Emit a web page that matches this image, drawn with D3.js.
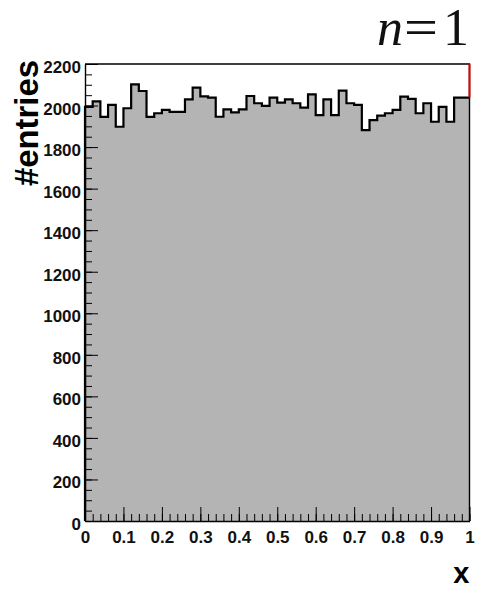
<!DOCTYPE html>
<html>
<head>
<meta charset="utf-8">
<script src="https://cdn.jsdelivr.net/npm/d3@7/dist/d3.min.js"></script>
<style>
  html, body { margin: 0; padding: 0; background: #fff; }
  svg { display: block; }
</style>
</head>
<body>
<div id="chart"></div>
<script>
// ---- data ----
const binEdges = [0, 1];           // x range of the histogram
const nBins = 50;
const counts = [
  1994, 2020, 1945, 2003, 1898, 1987, 2102, 2070, 1945, 1963,
  1979, 1970, 1970, 2030, 2086, 2044, 2038, 1946, 1982, 1967,
  1982, 2046, 2011, 1998, 2038, 2014, 2030, 2011, 1990, 2054,
  1954, 2030, 1954, 2072, 2011, 2003, 1882, 1930, 1951, 1963,
  1979, 2043, 2032, 1963, 2011, 1922, 1994, 1922, 2038, 2038
];
const yMajorTicks = [0, 200, 400, 600, 800, 1000, 1200, 1400, 1600, 1800, 2000, 2200];
const yTickLabels = ["0", "200", "400", "600", "800", "1000", "1200", "1400", "1600", "1800", "2000", "2200"];
const xMajorTicks = [0, 0.1, 0.2, 0.3, 0.4, 0.5, 0.6, 0.7, 0.8, 0.9, 1];
const xTickLabels = ["0", "0.1", "0.2", "0.3", "0.4", "0.5", "0.6", "0.7", "0.8", "0.9", "1"];
const yMax = 2200;
const xTitle = "x";
const yTitle = "#entries";
const titleParts = ["n", "=", "1"];

// ---- layout ----
const W = 479, H = 591;
const L = 85, R = 469.5, T = 64, B = 521;

const svg = d3.select("#chart").append("svg")
  .attr("width", W).attr("height", H)
  .attr("viewBox", `0 0 ${W} ${H}`);
svg.append("rect").attr("width", W).attr("height", H).attr("fill", "#fff");

const x = d3.scaleLinear().domain(binEdges).range([L, R]);
const y = d3.scaleLinear().domain([0, yMax]).range([B, T]);

const binW = (binEdges[1] - binEdges[0]) / nBins;
const pts = counts.map((c, i) => [binEdges[0] + i * binW, c]);
pts.push([binEdges[1], counts[counts.length - 1]]);

// fill
const area = d3.area()
  .x(d => x(d[0])).y0(y(0)).y1(d => y(d[1]))
  .curve(d3.curveStepAfter);
svg.append("path").datum(pts).attr("d", area).attr("fill", "#b4b4b4");

// outline
const line = d3.line().x(d => x(d[0])).y(d => y(d[1])).curve(d3.curveStepAfter);
svg.append("path")
  .attr("d", line(pts).replace(/^M/, `M${x(binEdges[0])},${y(0)}L`))
  .attr("fill", "none").attr("stroke", "#000").attr("stroke-width", 2.2)
  .attr("stroke-linejoin", "miter");

// frame (top & right)
svg.append("path")
  .attr("d", `M${L},${y(yMax)}L${R},${y(yMax)}L${R},${B}`)
  .attr("fill", "none").attr("stroke", "#000").attr("stroke-width", 1.4);

// red segment on right edge above last bin
svg.append("line")
  .attr("x1", R).attr("x2", R)
  .attr("y1", y(yMax)).attr("y2", y(counts[counts.length - 1]))
  .attr("stroke", "#e00000").attr("stroke-width", 2);

const font = "'Liberation Sans', Arial, Helvetica, sans-serif";

// y axis
const yMinor = d3.range(0, yMax + 1, 50);
const yAxisMinor = svg.append("g").attr("transform", `translate(${L},0)`)
  .call(d3.axisLeft(y).tickValues(yMinor).tickSize(-7).tickSizeOuter(0).tickFormat(""));
yAxisMinor.select(".domain").remove();
const yAxis = svg.append("g").attr("transform", `translate(${L},0)`)
  .call(d3.axisLeft(y).tickValues(yMajorTicks).tickSize(-13).tickSizeOuter(0).tickPadding(4)
        .tickFormat((d, i) => yTickLabels[i]));
yAxis.select(".domain").attr("stroke-width", 1.4);
yAxis.selectAll("text")
  .attr("font-family", font).attr("font-weight", "bold").attr("font-size", 17)
  .attr("fill", "#111").attr("dy", "0.5em");

// x axis
const xMinor = d3.range(0, 51).map(i => i / 50);
const xAxisMinor = svg.append("g").attr("transform", `translate(0,${B})`)
  .call(d3.axisBottom(x).tickValues(xMinor).tickSize(-7).tickSizeOuter(0).tickFormat(""));
xAxisMinor.select(".domain").remove();
const xAxis = svg.append("g").attr("transform", `translate(0,${B})`)
  .call(d3.axisBottom(x).tickValues(xMajorTicks).tickSize(-14).tickSizeOuter(0).tickPadding(10)
        .tickFormat((d, i) => xTickLabels[i]));
xAxis.select(".domain").attr("stroke-width", 1.4);
xAxis.selectAll("text")
  .attr("font-family", font).attr("font-weight", "bold").attr("font-size", 17)
  .attr("fill", "#111");
svg.selectAll(".tick line").attr("stroke", "#000").attr("stroke-width", 1);

// axis titles
svg.append("text")
  .attr("x", R).attr("y", 583)
  .attr("text-anchor", "end")
  .attr("font-family", font).attr("font-weight", "bold").attr("font-size", 29)
  .attr("fill", "#000").text(xTitle);

svg.append("text")
  .attr("transform", `translate(38,60) rotate(-90)`)
  .attr("text-anchor", "end")
  .attr("font-family", font).attr("font-weight", "bold").attr("font-size", 34)
  .attr("textLength", 126).attr("lengthAdjust", "spacingAndGlyphs")
  .attr("fill", "#000").text(yTitle);

// title n=1
const serif = "'Liberation Serif', 'Times New Roman', serif";
const title = svg.append("text").attr("y", 45)
  .attr("font-family", serif).attr("font-size", 52).attr("fill", "#111");
title.append("tspan").attr("x", 377).attr("font-style", "italic").text(titleParts[0]);
title.append("tspan").attr("x", 404).attr("textLength", 34).attr("lengthAdjust", "spacingAndGlyphs").text(titleParts[1]);
title.append("tspan").attr("x", 443).text(titleParts[2]);
</script>
</body>
</html>
